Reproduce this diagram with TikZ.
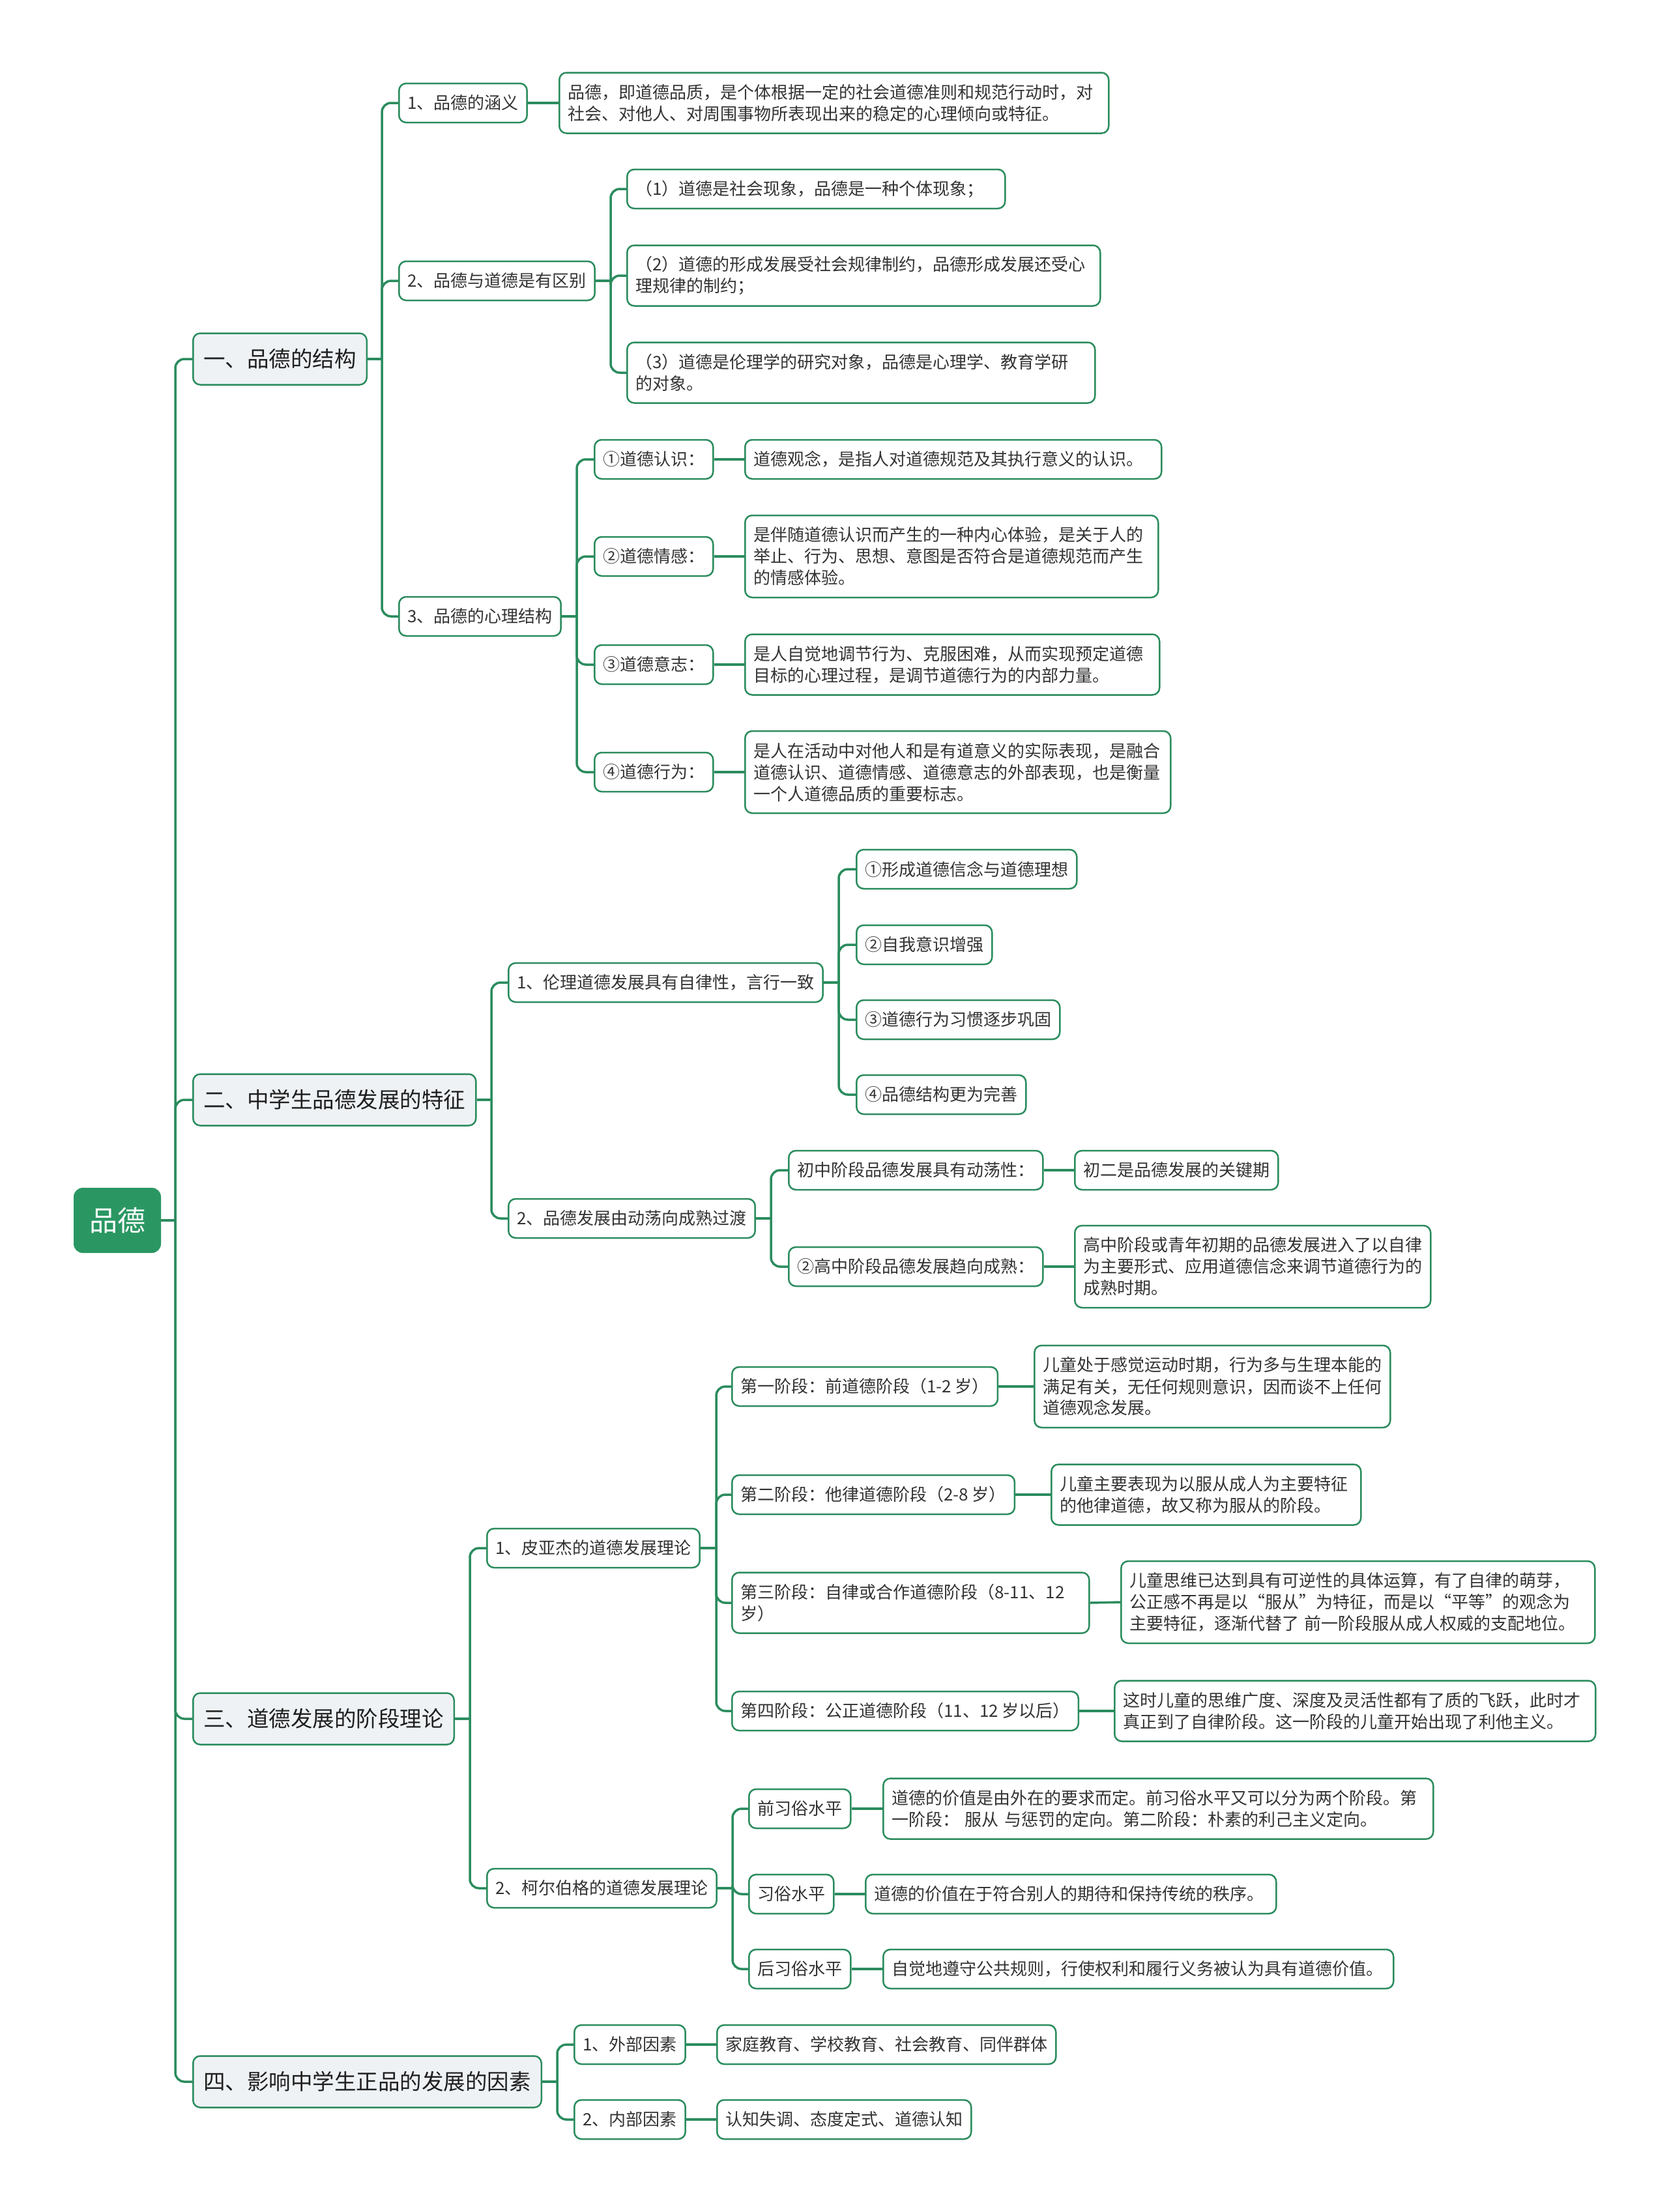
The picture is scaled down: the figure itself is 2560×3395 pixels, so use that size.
\documentclass[tikz,border=0pt]{standalone}
\usepackage{fontspec}
\setmainfont{Noto Sans CJK SC}
\definecolor{lc}{HTML}{2B8C5E}
\definecolor{rootc}{HTML}{2A9763}
\definecolor{lonefill}{HTML}{EEF2F5}
\definecolor{tc}{HTML}{333333}
\tikzset{
 conn/.style={draw=lc, line width=3.5pt, rounded corners=14pt},
 straight/.style={draw=lc, line width=3.5pt},
 box/.style={draw=lc, line width=2.5pt, rounded corners=11pt, fill=white, inner xsep=13pt, inner ysep=0pt, text=tc, font=\fontsize{26pt}{33pt}\selectfont, anchor=west, minimum height=60pt},
 desc/.style={box, align=left, text width=#1},
 two/.style={minimum height=93pt},
 three/.style={minimum height=126pt},
 lone/.style={box, fill=lonefill, font=\fontsize{33.5pt}{40pt}\selectfont, inner xsep=16pt, minimum height=79pt, text=black!88},
 rootbox/.style={fill=rootc, rounded corners=14pt, text=white, font=\fontsize{43pt}{50pt}\selectfont, minimum width=134pt, minimum height=100pt, inner sep=0pt},
}
\begin{document}
\begin{tikzpicture}[x=1pt,y=-1pt]
\fill[white] (0,0) rectangle (2560,3395);
\useasboundingbox (0,0) rectangle (2560,3395);

% root and level 1
\node[rootbox] (root) at (180,1873) {品德};
\coordinate (j0) at (269,1873);
\node[lone] (A) at (295,551) {一、品德的结构};
\node[lone] (B) at (295,1688) {二、中学生品德发展的特征};
\node[lone] (C) at (295,2638) {三、道德发展的阶段理论};
\node[lone] (D) at (295,3195) {四、影响中学生正品的发展的因素};
\draw[straight] (root.east) -- (j0);
\foreach \n in {A,B,C,D} \draw[conn] (j0) |- (\n.west);

% branch A
\coordinate (jA) at (586,551);
\node[box] (A1) at (611,158) {1、品德的涵义};
\node[desc=817,two] (A1d) at (857,158) {品德，即道德品质，是个体根据一定的社会道德准则和规范行动时，对\\社会、对他人、对周围事物所表现出来的稳定的心理倾向或特征。};
\node[box] (A2) at (611,431) {2、品德与道德是有区别};
\node[box] (A3) at (611,946) {3、品德的心理结构};
\draw[straight] (A.east) -- (jA);
\foreach \n in {A1,A2,A3} \draw[conn] (jA) |- (\n.west);
\draw[straight] (A1.east) -- (A1d.west);

\coordinate (jA2) at (937,431);
\node[desc=554] (A2a) at (961,290) {（1）道德是社会现象，品德是一种个体现象；};
\node[desc=700,two] (A2b) at (961,423) {（2）道德的形成发展受社会规律制约，品德形成发展还受心\\理规律的制约；};
\node[desc=692,two] (A2c) at (961,572) {（3）道德是伦理学的研究对象，品德是心理学、教育学研\\的对象。};
\draw[straight] (A2.east) -- (jA2);
\foreach \n in {A2a,A2b,A2c} \draw[conn] (jA2) |- (\n.west);

\coordinate (jA3) at (885,946);
\node[box] (A3a) at (911,705) {①道德认识：};
\node[desc=613] (A3ad) at (1142,705) {道德观念，是指人对道德规范及其执行意义的认识。};
\node[box] (A3b) at (911,854) {②道德情感：};
\node[desc=608,three] (A3bd) at (1142,854) {是伴随道德认识而产生的一种内心体验，是关于人的\\举止、行为、思想、意图是否符合是道德规范而产生\\的情感体验。};
\node[box] (A3c) at (911,1020) {③道德意志：};
\node[desc=610,two] (A3cd) at (1142,1020) {是人自觉地调节行为、克服困难，从而实现预定道德\\目标的心理过程，是调节道德行为的内部力量。};
\node[box] (A3d) at (911,1185) {④道德行为：};
\node[desc=627,three] (A3dd) at (1142,1185) {是人在活动中对他人和是有道意义的实际表现，是融合\\道德认识、道德情感、道德意志的外部表现，也是衡量\\一个人道德品质的重要标志。};
\draw[straight] (A3.east) -- (jA3);
\foreach \n in {A3a,A3b,A3c,A3d} \draw[conn] (jA3) |- (\n.west);
\draw[straight] (A3a.east) -- (A3ad.west);
\draw[straight] (A3b.east) -- (A3bd.west);
\draw[straight] (A3c.east) -- (A3cd.west);
\draw[straight] (A3d.east) -- (A3dd.west);

% branch B
\coordinate (jB) at (754,1688);
\node[box] (B1) at (779,1508) {1、伦理道德发展具有自律性，言行一致};
\node[box] (B2) at (779,1870) {2、品德发展由动荡向成熟过渡};
\draw[straight] (B.east) -- (jB);
\foreach \n in {B1,B2} \draw[conn] (jB) |- (\n.west);

\coordinate (jB1) at (1287,1508);
\node[box] (B1a) at (1313,1334) {①形成道德信念与道德理想};
\node[box] (B1b) at (1313,1450) {②自我意识增强};
\node[box] (B1c) at (1313,1565) {③道德行为习惯逐步巩固};
\node[box] (B1d) at (1313,1680) {④品德结构更为完善};
\draw[straight] (B1.east) -- (jB1);
\foreach \n in {B1a,B1b,B1c,B1d} \draw[conn] (jB1) |- (\n.west);

\coordinate (jB2) at (1183,1870);
\node[box] (B2a) at (1209,1796) {初中阶段品德发展具有动荡性：};
\node[box] (B2ad) at (1648,1796) {初二是品德发展的关键期};
\node[box] (B2b) at (1209,1944) {②高中阶段品德发展趋向成熟：};
\node[desc=520,three] (B2bd) at (1648,1944) {高中阶段或青年初期的品德发展进入了以自律\\为主要形式、应用道德信念来调节道德行为的\\成熟时期。};
\draw[straight] (B2.east) -- (jB2);
\foreach \n in {B2a,B2b} \draw[conn] (jB2) |- (\n.west);
\draw[straight] (B2a.east) -- (B2ad.west);
\draw[straight] (B2b.east) -- (B2bd.west);

% branch C
\coordinate (jC) at (721,2638);
\node[box] (C1) at (746,2376) {1、皮亚杰的道德发展理论};
\node[box] (C2) at (746,2898) {2、柯尔伯格的道德发展理论};
\draw[straight] (C.east) -- (jC);
\foreach \n in {C1,C2} \draw[conn] (jC) |- (\n.west);

\coordinate (jC1) at (1099,2376);
\node[box] (C1a) at (1122,2128) {第一阶段：前道德阶段（1-2 岁）};
\node[desc=520,three] (C1ad) at (1586,2128) {儿童处于感觉运动时期，行为多与生理本能的\\满足有关，无任何规则意识，因而谈不上任何\\道德观念发展。};
\node[box] (C1b) at (1122,2294) {第二阶段：他律道德阶段（2-8 岁）};
\node[desc=449,two] (C1bd) at (1612,2294) {儿童主要表现为以服从成人为主要特征\\的他律道德，故又称为服从的阶段。};
\node[desc=522,two] (C1c) at (1122,2460) {第三阶段：自律或合作道德阶段（8-11、12\\岁）};
\node[desc=701,three] (C1cd) at (1719,2459) {儿童思维已达到具有可逆性的具体运算，有了自律的萌芽，\\公正感不再是以“服从”为特征，而是以“平等”的观念为\\主要特征，逐渐代替了 前一阶段服从成人权威的支配地位。};
\node[box] (C1d) at (1122,2626) {第四阶段：公正道德阶段（11、12 岁以后）};
\node[desc=712,two] (C1dd) at (1709,2626) {这时儿童的思维广度、深度及灵活性都有了质的飞跃，此时才\\真正到了自律阶段。这一阶段的儿童开始出现了利他主义。};
\draw[straight] (C1.east) -- (jC1);
\foreach \n in {C1a,C1b,C1c,C1d} \draw[conn] (jC1) |- (\n.west);
\draw[straight] (C1a.east) -- (C1ad.west);
\draw[straight] (C1b.east) -- (C1bd.west);
\draw[straight] (C1c.east) -- (C1cd.west);
\draw[straight] (C1d.east) -- (C1dd.west);

\coordinate (jC2) at (1124,2898);
\node[box] (C2a) at (1148,2776) {前习俗水平};
\node[desc=818,two] (C2ad) at (1354,2776) {道德的价值是由外在的要求而定。前习俗水平又可以分为两个阶段。第\\一阶段： 服从 与惩罚的定向。第二阶段：朴素的利己主义定向。};
\node[box] (C2b) at (1148,2907) {习俗水平};
\node[desc=604] (C2bd) at (1327,2907) {道德的价值在于符合别人的期待和保持传统的秩序。};
\node[box] (C2c) at (1148,3022) {后习俗水平};
\node[desc=757] (C2cd) at (1354,3022) {自觉地遵守公共规则，行使权利和履行义务被认为具有道德价值。};
\draw[straight] (C2.east) -- (jC2);
\foreach \n in {C2a,C2b,C2c} \draw[conn] (jC2) |- (\n.west);
\draw[straight] (C2a.east) -- (C2ad.west);
\draw[straight] (C2b.east) -- (C2bd.west);
\draw[straight] (C2c.east) -- (C2cd.west);

% branch D
\coordinate (jD) at (855,3195);
\node[box] (D1) at (880,3138) {1、外部因素};
\node[box] (D1d) at (1099,3138) {家庭教育、学校教育、社会教育、同伴群体};
\node[box] (D2) at (880,3253) {2、内部因素};
\node[box] (D2d) at (1099,3253) {认知失调、态度定式、道德认知};
\draw[straight] (D.east) -- (jD);
\foreach \n in {D1,D2} \draw[conn] (jD) |- (\n.west);
\draw[straight] (D1.east) -- (D1d.west);
\draw[straight] (D2.east) -- (D2d.west);
\end{tikzpicture}
\end{document}
